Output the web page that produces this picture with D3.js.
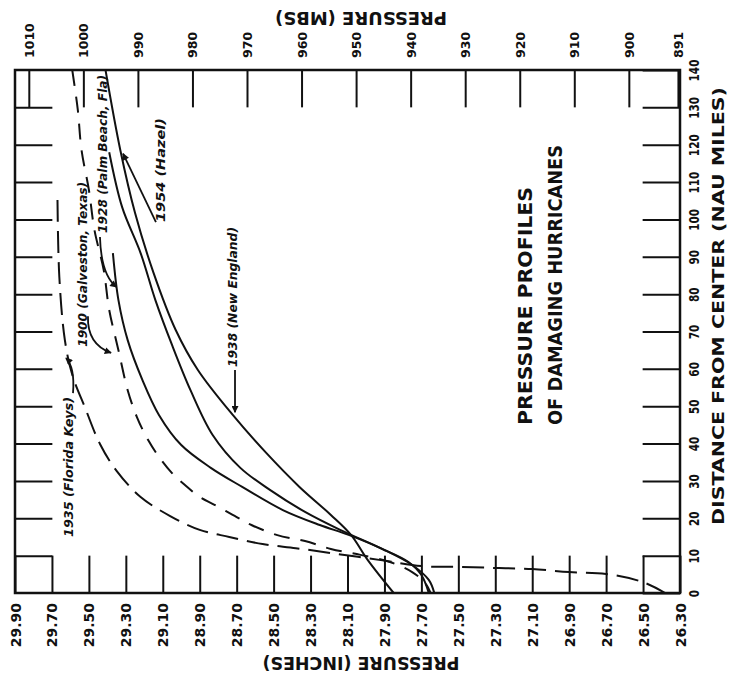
<!DOCTYPE html>
<html>
<head>
<meta charset="utf-8">
<script src="https://cdn.jsdelivr.net/npm/d3@7"></script>
<style>
  body { margin: 0; background: #fff; }
  svg { display: block; font-family: 'DejaVu Sans', sans-serif; }
  .axis path.domain { display: none; }
  .axis line { stroke: #111; stroke-width: 2; }
  .axis text { fill: #111; font-weight: bold; font-family: 'DejaVu Sans', sans-serif; }
  .curve { fill: none; stroke: #111; stroke-width: 2; }
  .note { fill: #111; font-weight: bold; font-style: italic; font-size: 12.5px; }
  .title { fill: #111; font-weight: bold; }
</style>
</head>
<body>
<div id="chart"></div>
<script>
const width = 730;
const height = 686;

// pressure in inches of mercury along the bottom edge
const inchTicks = [29.90, 29.70, 29.50, 29.30, 29.10, 28.90, 28.70, 28.50, 28.30, 28.10,
                   27.90, 27.70, 27.50, 27.30, 27.10, 26.90, 26.70, 26.50, 26.30];
// same pressure in millibars along the top edge
const mbTicks = [1010, 1000, 990, 980, 970, 960, 950, 940, 930, 920, 910, 900, 891];
// distance from the storm centre, nautical miles
const distTicks = [0, 10, 20, 30, 40, 50, 60, 70, 80, 90, 100, 110, 120, 130, 140];

const IN_TO_MB = 33.8639;

// profiles: [distance (nau mi), pressure (in)]
const curve1938 = [[140, 29.41], [118.6, 29.33], [101.7, 29.25], [85.7, 29.15], [70.4, 29.03],
  [59.7, 28.91], [47.6, 28.72], [37.5, 28.54], [28.4, 28.36], [20.9, 28.19], [15.5, 28.08],
  [8.8, 27.99], [0, 27.85]];
const curve1954 = [[118.0, 29.39], [103.3, 29.32], [91.0, 29.22], [78.4, 29.14], [66.4, 29.05],
  [54.3, 28.95], [42.3, 28.83], [33.5, 28.68], [27.6, 28.52], [21.7, 28.33], [16.9, 28.14],
  [12.0, 27.92], [8.3, 27.77], [4.8, 27.70], [0, 27.66]];
const curve1928 = [[91.0, 29.37], [78.4, 29.34], [67.7, 29.29], [57.0, 29.21], [47.6, 29.12],
  [39.6, 29.00], [33.5, 28.84], [28.4, 28.67], [22.2, 28.45], [18.2, 28.25], [15.5, 28.09],
  [11.5, 27.90], [7.5, 27.75], [3.5, 27.66], [0, 27.63]];
const curve1900 = [[140, 29.59], [129.3, 29.56], [118.6, 29.54], [107.9, 29.50], [97.2, 29.47],
  [86.5, 29.42], [75.8, 29.39], [65.0, 29.34], [54.3, 29.29], [47.1, 29.24], [41.0, 29.18],
  [36.4, 29.12], [32.1, 29.05], [28.9, 28.98], [25.7, 28.90], [23.6, 28.82], [20.3, 28.70],
  [18.2, 28.62], [15.5, 28.48], [13.9, 28.33], [11.8, 28.19], [10.2, 28.03], [8.3, 27.87],
  [5.6, 27.75], [2.7, 27.68], [0, 27.65]];
const curve1935 = [[105.2, 29.67], [84.6, 29.66], [67.7, 29.63], [58.4, 29.59], [49.5, 29.52],
  [39.9, 29.44], [32.7, 29.35], [25.7, 29.22], [20.6, 29.06], [16.9, 28.90], [15.0, 28.74],
  [13.1, 28.56], [12.0, 28.38], [10.7, 28.19], [8.8, 27.92], [7.2, 27.70], [7.0, 27.50],
  [6.7, 27.30], [6.4, 27.10], [5.6, 26.90], [5.1, 26.70], [2.9, 26.50], [0, 26.38]];

const margin = { top: 70, right: 50, bottom: 93, left: 15 };

const svg = d3.select('#chart').append('svg')
  .attr('width', width)
  .attr('height', height);

const x = d3.scaleLinear().domain([29.90, 26.30]).range([margin.left, width - margin.right]);
const xMb = d3.scaleLinear().domain([29.90 * IN_TO_MB, 26.30 * IN_TO_MB]).range(x.range());
const y = d3.scaleLinear().domain([0, 140]).range([height - margin.bottom, margin.top]);
const tickLen = y(0) - y(10);

svg.append('defs').append('marker')
  .attr('id', 'head')
  .attr('viewBox', '0 0 10 10')
  .attr('refX', 9).attr('refY', 5)
  .attr('markerWidth', 9).attr('markerHeight', 7)
  .attr('markerUnits', 'userSpaceOnUse')
  .attr('orient', 'auto')
  .append('path').attr('d', 'M0,0L10,5L0,10z').attr('fill', '#111');

svg.append('clipPath').attr('id', 'plot')
  .append('rect')
  .attr('x', x(29.90)).attr('y', y(140))
  .attr('width', x(26.30) - x(29.90)).attr('height', y(0) - y(140));

// bottom axis (inches)
svg.append('g').attr('class', 'axis')
  .attr('transform', `translate(0,${y(0)})`)
  .call(d3.axisBottom(x).tickValues(inchTicks).tickSize(-tickLen).tickFormat(d3.format('.2f')))
  .call(g => g.selectAll('text')
    .attr('transform', 'rotate(-90)')
    .attr('text-anchor', 'end')
    .attr('x', -10).attr('y', 0).attr('dy', '0.36em')
    .style('font-size', '14px'));

// top axis (millibars)
svg.append('g').attr('class', 'axis')
  .attr('transform', `translate(0,${y(140)})`)
  .call(d3.axisTop(xMb).tickValues(mbTicks).tickSize(-tickLen).tickFormat(d3.format('d')))
  .call(g => g.selectAll('text')
    .attr('transform', 'rotate(-90)')
    .attr('text-anchor', 'start')
    .attr('x', 12).attr('y', 0).attr('dy', '0.36em')
    .style('font-size', '12.5px'));

// right axis (distance)
svg.append('g').attr('class', 'axis')
  .attr('transform', `translate(${x(26.30)},0)`)
  .call(d3.axisRight(y).tickValues(distTicks).tickSize(-tickLen))
  .call(g => g.selectAll('text')
    .attr('transform', 'rotate(-90)')
    .attr('text-anchor', 'middle')
    .attr('x', 0).attr('y', 14).attr('dy', '0.36em')
    .attr('textLength', d => String(d).length * 7.3)
    .attr('lengthAdjust', 'spacingAndGlyphs')
    .style('font-size', '14px'));

// left axis, ticks only
svg.append('g').attr('class', 'axis')
  .attr('transform', `translate(${x(29.90)},0)`)
  .call(d3.axisLeft(y).tickValues(distTicks.slice(1, -1)).tickSize(-tickLen).tickFormat(''));

// frame
svg.append('rect')
  .attr('x', x(29.90)).attr('y', y(140))
  .attr('width', x(26.30) - x(29.90)).attr('height', y(0) - y(140))
  .attr('fill', 'none').attr('stroke', '#111').attr('stroke-width', 2.5);

const line = d3.line()
  .x(d => x(d[1]))
  .y(d => y(d[0]))
  .curve(d3.curveCatmullRom.alpha(0.5));

const curves = svg.append('g').attr('clip-path', 'url(#plot)');
[
  { pts: curve1938, dash: null },
  { pts: curve1954, dash: null },
  { pts: curve1928, dash: null },
  { pts: curve1900, dash: '16,11' },
  { pts: curve1935, dash: '22,9' },
].forEach(c => {
  curves.append('path')
    .attr('class', 'curve')
    .attr('d', line(c.pts))
    .attr('stroke-dasharray', c.dash);
});

// storm labels: anchored at [distance, pressure], text runs upward
function note(text, d, p, len) {
  svg.append('text')
    .attr('class', 'note')
    .attr('transform', `translate(${x(p)},${y(d)}) rotate(-90)`)
    .attr('dy', '0.36em')
    .attr('textLength', len)
    .attr('lengthAdjust', 'spacingAndGlyphs')
    .text(text);
}
function arrow(a, c, b) {
  const path = d3.path();
  path.moveTo(x(a[1]), y(a[0]));
  path.quadraticCurveTo(x(c[1]), y(c[0]), x(b[1]), y(b[0]));
  svg.append('path')
    .attr('d', path.toString())
    .attr('fill', 'none').attr('stroke', '#111').attr('stroke-width', 1.8)
    .attr('marker-end', 'url(#head)');
}

note('1935 (Florida Keys)', 15.0, 29.613, 140);
arrow([53.5, 29.586], [60.5, 29.575], [62.9, 29.624]);
note('1900 (Galveston, Texas)', 65.9, 29.537, 165);
arrow([74.1, 29.505], [66.6, 29.51], [64.3, 29.38]);
note('1928 (Palm Beach, Fla)', 96.4, 29.429, 158);
arrow([95.3, 29.440], [85.1, 29.434], [81.9, 29.35]);
note('1954 (Hazel)', 99.3, 29.110, 104);
arrow([99.3, 29.137], [108.5, 29.226], [117.6, 29.315]);
note('1938 (New England)', 60.5, 28.72, 140);
arrow([59.7, 28.709], [54, 28.709], [48.4, 28.709]);

// main title
const title = svg.append('g').attr('class', 'title').style('font-size', '20px');
title.append('text')
  .attr('transform', 'translate(525,425) rotate(-90)')
  .attr('dy', '0.36em')
  .attr('textLength', 238).attr('lengthAdjust', 'spacingAndGlyphs')
  .text('PRESSURE  PROFILES');
title.append('text')
  .attr('transform', 'translate(555,425) rotate(-90)')
  .attr('dy', '0.36em')
  .attr('textLength', 280).attr('lengthAdjust', 'spacingAndGlyphs')
  .text('OF DAMAGING HURRICANES');

// axis titles
svg.append('text').attr('class', 'title')
  .attr('transform', 'translate(718,306) rotate(-90)')
  .attr('text-anchor', 'middle').attr('dy', '0.36em')
  .attr('textLength', 438).attr('lengthAdjust', 'spacingAndGlyphs')
  .style('font-size', '16.5px')
  .text('DISTANCE FROM CENTER (NAU MILES)');
svg.append('text').attr('class', 'title')
  .attr('transform', 'translate(361,663) rotate(180)')
  .attr('text-anchor', 'middle').attr('dy', '0.36em')
  .attr('textLength', 197).attr('lengthAdjust', 'spacingAndGlyphs')
  .style('font-size', '17px')
  .text('PRESSURE (INCHES)');
svg.append('text').attr('class', 'title')
  .attr('transform', 'translate(361,18) rotate(180)')
  .attr('text-anchor', 'middle').attr('dy', '0.36em')
  .attr('textLength', 172).attr('lengthAdjust', 'spacingAndGlyphs')
  .style('font-size', '17px')
  .text('PRESSURE (MBS)');
</script>
</body>
</html>
